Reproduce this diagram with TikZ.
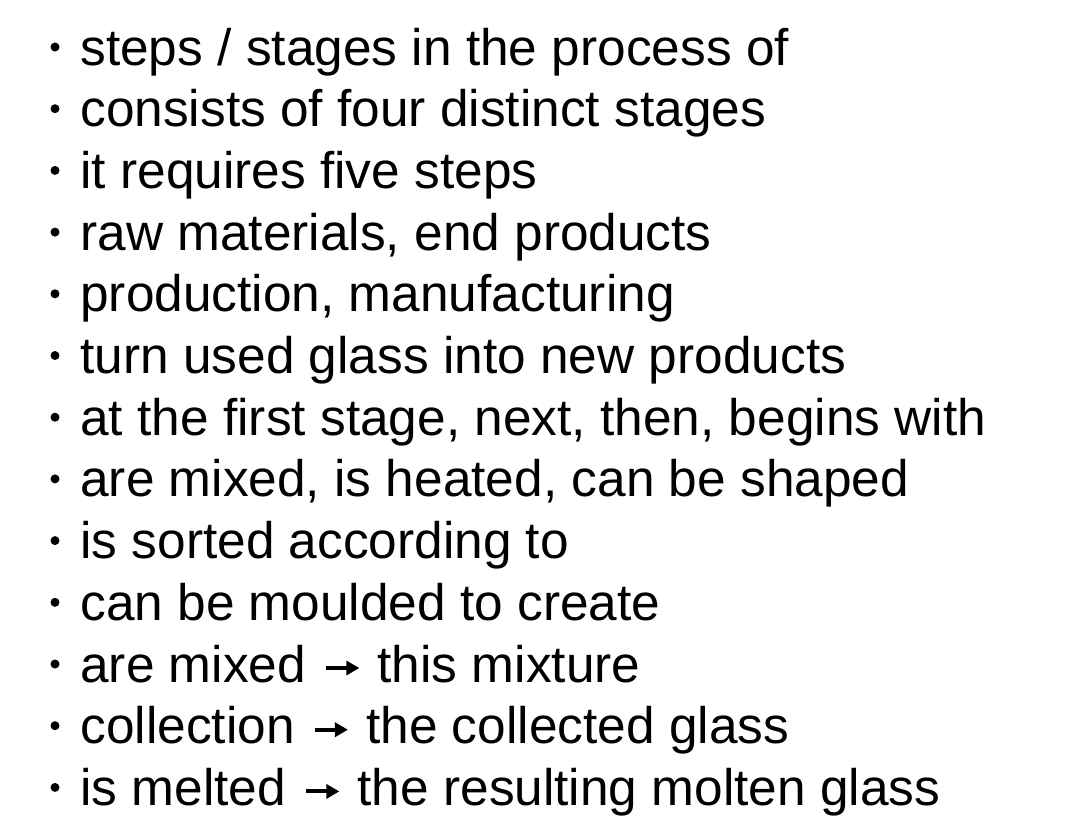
\documentclass[tikz,border=0pt]{standalone}
\usepackage{fontspec}
\setmainfont{Liberation Sans}
\usetikzlibrary{arrows.meta}

\newcommand{\thento}{\hspace{2pt}\tikz[baseline]\draw[line width=2pt,-{Triangle[length=6.5pt,width=7pt]}] (0,7pt) -- (16.5pt,7pt);\hspace{1pt}}

\tikzset{
  item/.style={anchor=base west, inner sep=0pt, font=\fontsize{25.7pt}{30pt}\selectfont},
  dot/.style={circle, fill, inner sep=0pt, minimum size=4.5pt}
}

\begin{document}
\begin{tikzpicture}
\useasboundingbox (0,0) rectangle (543.5pt,-413.5pt);
\foreach \txt [count=\i] in {
  {steps / stages in the process of},
  {consists of four distinct stages},
  {it requires five steps},
  {raw materials, end products},
  {production, manufacturing},
  {turn used glass into new products},
  {at the first stage, next, then, begins with},
  {are mixed, is heated, can be shaped},
  {is sorted according to},
  {can be moulded to create},
  {are mixed \thento{} this mixture},
  {collection \thento{} the collected glass},
  {is melted \thento{} the resulting molten glass}}
{
  \node[item] (item\i) at (40pt,{-32.5pt-30.85pt*(\i-1)}) {\txt};
  \node[dot] (bullet\i) at (27.5pt,{-23.5pt-30.85pt*(\i-1)}) {};
}
\end{tikzpicture}
\end{document}
